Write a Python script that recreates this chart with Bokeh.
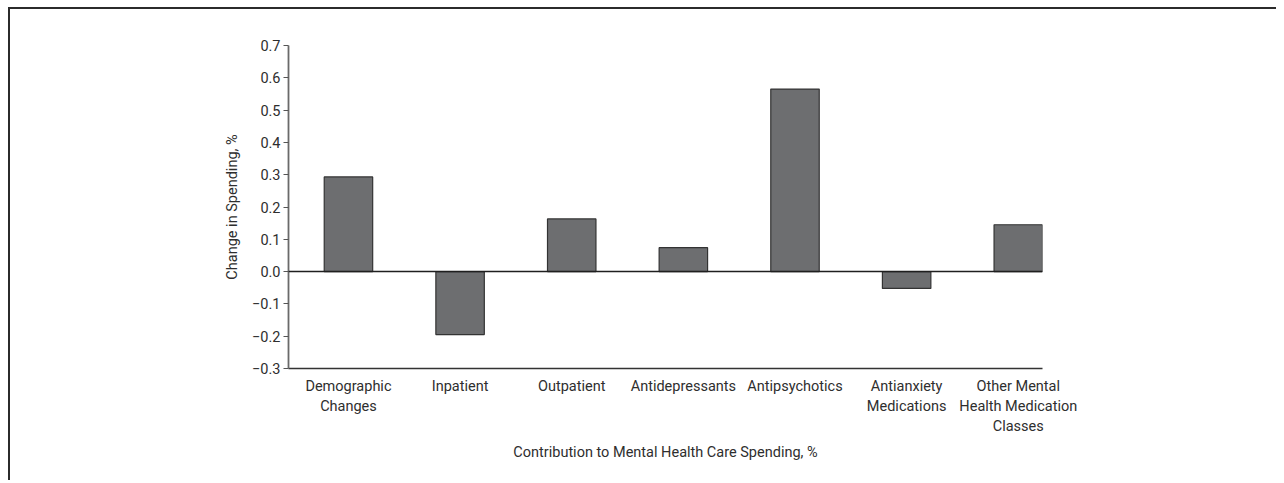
from bokeh.plotting import figure
from bokeh.models import Range1d, FixedTicker, Span, ColumnDataSource
from bokeh.embed import file_html
from bokeh.resources import INLINE

# ---- data ----
categories = [
    "Demographic\nChanges",
    "Inpatient",
    "Outpatient",
    "Antidepressants",
    "Antipsychotics",
    "Antianxiety\nMedications",
    "Other Mental\nHealth Medication\nClasses",
]
values = [0.293, -0.195, 0.163, 0.074, 0.565, -0.052, 0.145]
y_ticks = [-0.3, -0.2, -0.1, 0.0, 0.1, 0.2, 0.3, 0.4, 0.5, 0.6, 0.7]
y_tick_labels = ["\u22120.3", "\u22120.2", "\u22120.1", "0.0", "0.1", "0.2",
                 "0.3", "0.4", "0.5", "0.6", "0.7"]
x_title = "Contribution to Mental Health Care Spending, %"
y_title = "Change in Spending, %"

FONT = "Roboto"
FS = "14.5px"
TXT = "#2e2e2e"

xs = list(range(len(categories)))
src = ColumnDataSource(dict(x=xs, value=values))

p = figure(width=1268, height=473, output_backend="svg", toolbar_location=None,
           x_range=Range1d(-0.537, len(categories) - 1 + 0.217),
           y_range=Range1d(-0.3, 0.7),
           min_border_left=278, min_border_right=236,
           min_border_top=36, min_border_bottom=114)
p.styles = {"margin-left": "8px", "margin-top": "7px",
            "border-left": "2px solid #2b2b2b", "border-top": "2px solid #2b2b2b"}
p.outline_line_color = None
p.xgrid.grid_line_color = None
p.ygrid.grid_line_color = None
p.background_fill_color = "white"
p.border_fill_color = "white"

p.vbar(x="x", top="value", bottom=0, width=0.434, source=src,
       fill_color="#6d6e70", line_color="#333333", line_width=1.2)

p.add_layout(Span(location=0, dimension="width", line_color="#1f1f1f", line_width=1.5))

# x axis
xa = p.xaxis[0]
xa.ticker = FixedTicker(ticks=xs)
xa.major_label_overrides = {i: c for i, c in zip(xs, categories)}
xa.major_tick_line_color = None
xa.major_tick_out = 0
xa.minor_tick_line_color = None
xa.axis_line_color = "#333333"
xa.axis_line_width = 1.5
xa.major_label_text_font = FONT
xa.major_label_text_font_size = FS
xa.major_label_text_color = TXT
xa.major_label_standoff = 9
xa.axis_label = x_title
xa.axis_label_text_font = FONT
xa.axis_label_text_font_size = FS
xa.axis_label_text_font_style = "normal"
xa.axis_label_text_color = TXT
xa.axis_label_standoff = 6

# y axis
ya = p.yaxis[0]
ya.ticker = FixedTicker(ticks=y_ticks)
ya.major_label_overrides = {t: l for t, l in zip(y_ticks, y_tick_labels)}
ya.major_tick_out = 5
ya.major_tick_in = 0
ya.major_tick_line_color = "#555555"
ya.major_tick_line_width = 1.2
ya.minor_tick_line_color = None
ya.axis_line_color = "#6a6a6a"
ya.axis_line_width = 1.8
ya.major_label_text_font = FONT
ya.major_label_text_font_size = FS
ya.major_label_text_color = TXT
ya.major_label_standoff = 3
ya.axis_label = y_title
ya.axis_label_text_font = FONT
ya.axis_label_text_font_size = FS
ya.axis_label_text_font_style = "normal"
ya.axis_label_text_color = TXT
ya.axis_label_standoff = 8

open("out.html", "w").write(file_html(p, INLINE))
